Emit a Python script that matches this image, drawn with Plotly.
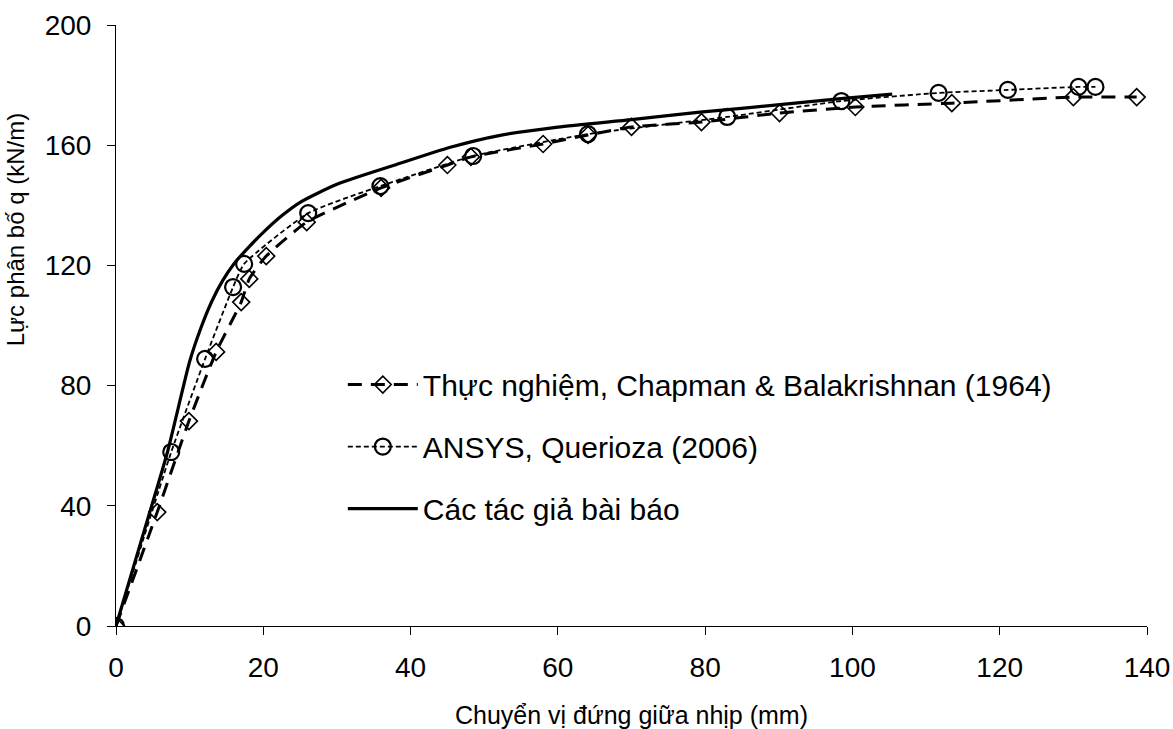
import plotly.graph_objects as go

# Experimental (Chapman & Balakrishnan 1964)
exp_x = [0, 5.6, 9.9, 13.6, 17.0, 18.1, 20.4, 25.9, 36.0, 45.0, 48.2, 58.0, 64.1, 70.0, 79.5, 90.1, 100.4, 113.5, 130.0, 138.6]
exp_q = [0, 37.9, 68.2, 91.2, 107.8, 115.5, 123.1, 134.4, 145.8, 153.4, 156.1, 160.4, 163.4, 166.1, 167.7, 170.7, 172.7, 174.0, 176.0, 176.0]

# ANSYS, Querioza (2006)
ansys_x = [0, 7.5, 12.1, 15.9, 17.4, 26.1, 35.9, 48.5, 64.1, 83.0, 98.5, 111.7, 121.1, 130.7, 133.0]
ansys_q = [0, 57.9, 88.9, 112.8, 120.5, 137.4, 146.4, 156.4, 163.7, 169.4, 174.7, 177.4, 178.4, 179.4, 179.4]

# Authors
auth_x = [0, 3.5, 7.0, 10.0, 11.5, 13.0, 14.5, 16.0, 18.0, 20.0, 22.5, 25.0, 30.0, 38.0, 45.4, 52.0, 60.0, 70.0, 79.3, 86.0, 98.4, 105.4]
auth_q = [0, 29, 58, 88, 99, 108, 115, 120.5, 126, 131, 136.5, 141, 147, 153.5, 159.3, 163.2, 166, 168.5, 171, 172.5, 175.5, 177]

names = ["Thực nghiệm, Chapman & Balakrishnan (1964)", "ANSYS, Querioza (2006)", "Các tác giả bài báo"]
x_ticks = [0, 20, 40, 60, 80, 100, 120, 140]
y_ticks = [0, 40, 80, 120, 160, 200]

FONT = "Liberation Sans, Arial, sans-serif"

fig = go.Figure()
fig.add_trace(go.Scatter(
    x=exp_x, y=exp_q, name=names[0], mode="lines+markers", legendgroup="a",
    line=dict(color="black", width=3, dash="14px,9px", shape="spline", smoothing=0.5),
    marker=dict(symbol="diamond-open", size=13, color="black", line=dict(width=1.6, color="black")),
))
fig.add_trace(go.Scatter(
    x=ansys_x, y=ansys_q, name=names[1], mode="lines+markers", legendgroup="b",
    line=dict(color="black", width=1.8, dash="5px,3px", shape="spline", smoothing=0.5),
    marker=dict(symbol="circle-open", size=16, color="black", line=dict(width=2.2, color="black")),
))
fig.add_trace(go.Scatter(
    x=auth_x, y=auth_q, name=names[2], mode="lines", legendgroup="c",
    line=dict(color="black", width=3.2, shape="spline", smoothing=0.6),
))

fig.update_layout(
    width=1173, height=729,
    margin=dict(l=116, r=26, t=25, b=103),
    paper_bgcolor="white", plot_bgcolor="white",
    font=dict(family=FONT, color="black"),
    showlegend=True,
    legend=dict(
        x=0.22, y=0.445, xanchor="left", yanchor="top",
        bgcolor="rgba(0,0,0,0)", font=dict(size=30, family=FONT),
        itemwidth=70, tracegroupgap=20,
    ),
    xaxis=dict(
        range=[0, 140], tickvals=x_ticks, showgrid=False, zeroline=False,
        showline=True, linecolor="black", linewidth=1, automargin=False,
        ticks="outside", ticklen=8, tickcolor="black", ticklabelstandoff=8,
        tickfont=dict(size=28, family=FONT),
        title=dict(text="Chuyển vị đứng giữa nhịp (mm)", font=dict(size=25, family=FONT), standoff=25),
    ),
    yaxis=dict(
        range=[0, 200], tickvals=y_ticks, showgrid=False, zeroline=False,
        showline=True, linecolor="black", linewidth=1, automargin=False,
        ticks="outside", ticklen=8, tickcolor="black", ticklabelstandoff=10,
        tickfont=dict(size=28, family=FONT),
    ),
    annotations=[dict(
        text="Lực phân bố q (kN/m)", xref="paper", yref="paper",
        x=-0.098, y=0.66, xanchor="center", yanchor="middle", textangle=-90,
        showarrow=False, font=dict(size=24, family=FONT),
    )],
)

fig.write_html(
    "out.html",
    config={"displayModeBar": False},
    post_script="document.body.style.margin='0';document.body.style.overflow='hidden';",
)
